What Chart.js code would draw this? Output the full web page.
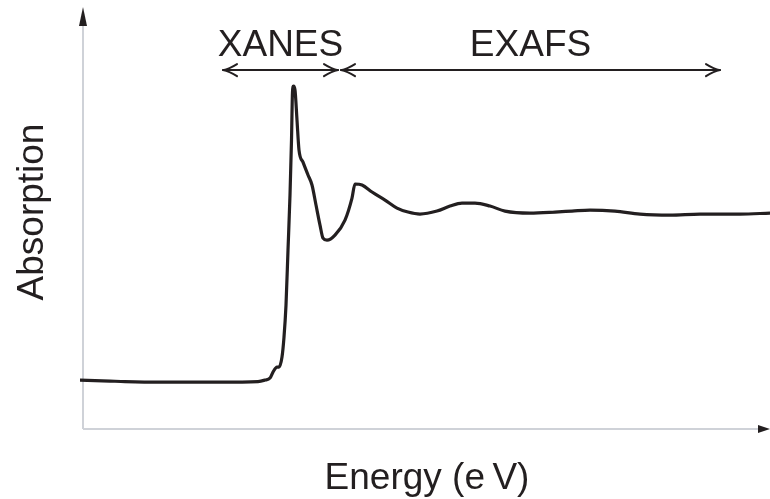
<!DOCTYPE html>
<html>
<head>
<meta charset="utf-8">
<script src="https://cdn.jsdelivr.net/npm/chart.js@4"></script>
<style>
  html, body { margin: 0; padding: 0; background: #ffffff; }
  #wrap { width: 770px; height: 499px; position: relative; }
</style>
</head>
<body>
<div id="wrap"><canvas id="c" width="770" height="499"></canvas></div>
<script>
// ---- data (energy in arbitrary units relative to scan start, absorption normalised) ----
const energy = [0, 30, 45, 80, 140, 178, 185, 190, 193, 197, 199, 202, 204, 206, 208, 210, 211.5, 212.5, 213.5, 215, 217, 219, 223, 228, 232, 236, 240, 243, 247, 255, 265, 272, 275, 282, 292, 305, 317, 328, 340, 357, 370, 382, 395, 410, 425, 450, 475, 492, 510, 535, 560, 590, 620, 660, 690];
const absorption = [0, -0.006, -0.009, -0.012, -0.012, -0.009, 0, 0.012, 0.048, 0.078, 0.078, 0.138, 0.257, 0.449, 0.778, 1.108, 1.437, 1.725, 1.760, 1.737, 1.557, 1.377, 1.305, 1.228, 1.168, 1.048, 0.928, 0.850, 0.838, 0.868, 0.958, 1.090, 1.174, 1.168, 1.126, 1.078, 1.030, 1.006, 0.994, 1.012, 1.042, 1.060, 1.060, 1.042, 1.012, 1.000, 1.006, 1.012, 1.018, 1.012, 0.994, 0.988, 0.994, 0.994, 1.000];

const regionLabels = ['XANES', 'EXAFS'];
const regionStart = [143, 261];
const regionEnd = [258, 640];

const xTitle = 'Energy (e\u2009V)';
const yTitle = 'Absorption';

const points = energy.map((e, i) => ({ x: e, y: absorption[i] }));

const ink = '#231f20';
const axisGrey = '#cfd2d8';
const FONT = '"Liberation Sans", Arial, Helvetica, sans-serif';

const decorPlugin = {
  id: 'decor',
  beforeDatasetsDraw(chart) {
    const { ctx, chartArea, scales } = chart;
    const x0 = scales.x.getPixelForValue(3);
    const yb = chartArea.bottom;
    ctx.save();
    ctx.strokeStyle = axisGrey;
    ctx.lineWidth = 2;
    ctx.beginPath();
    ctx.moveTo(x0, yb);
    ctx.lineTo(x0, chartArea.top + 14);
    ctx.moveTo(x0, yb);
    ctx.lineTo(chartArea.right - 10, yb);
    ctx.stroke();
    ctx.fillStyle = ink;
    ctx.beginPath();
    ctx.moveTo(x0, chartArea.top - 5);
    ctx.lineTo(x0 - 4, chartArea.top + 14);
    ctx.lineTo(x0 + 4, chartArea.top + 14);
    ctx.closePath();
    ctx.fill();
    ctx.beginPath();
    ctx.moveTo(chartArea.right, yb);
    ctx.lineTo(chartArea.right - 12, yb - 4);
    ctx.lineTo(chartArea.right - 12, yb + 4);
    ctx.closePath();
    ctx.fill();
    ctx.restore();
  },
  afterDatasetsDraw(chart) {
    const { ctx, scales } = chart;
    const ay = scales.y.getPixelForValue(1.856);
    ctx.save();
    ctx.strokeStyle = ink;
    ctx.lineWidth = 2;
    ctx.lineCap = 'round';
    ctx.lineJoin = 'round';
    const head = (tipX, dir) => {
      ctx.beginPath();
      ctx.moveTo(tipX + dir * 14, ay - 6);
      ctx.quadraticCurveTo(tipX + dir * 6, ay - 1, tipX, ay);
      ctx.quadraticCurveTo(tipX + dir * 6, ay + 1, tipX + dir * 14, ay + 6);
      ctx.stroke();
    };
    ctx.font = '37px ' + FONT;
    ctx.fillStyle = ink;
    ctx.textAlign = 'center';
    ctx.textBaseline = 'alphabetic';
    regionLabels.forEach((lab, i) => {
      const a = scales.x.getPixelForValue(regionStart[i]);
      const b = scales.x.getPixelForValue(regionEnd[i]);
      ctx.beginPath();
      ctx.moveTo(a, ay);
      ctx.lineTo(b, ay);
      ctx.stroke();
      head(a, 1);
      head(b, -1);
      ctx.fillText(lab, (a + b) / 2, ay - 14);
    });
    ctx.fillText(xTitle, 427, 489);
    ctx.translate(43, 212);
    ctx.rotate(-Math.PI / 2);
    ctx.fillText(yTitle, 0, 0);
    ctx.restore();
  }
};

new Chart(document.getElementById('c'), {
  type: 'line',
  data: {
    datasets: [{
      data: points,
      borderColor: ink,
      borderWidth: 3.2,
      pointRadius: 0,
      fill: false,
      cubicInterpolationMode: 'monotone'
    }]
  },
  options: {
    responsive: false,
    animation: false,
    events: [],
    layout: { padding: { left: 80, right: 0, top: 12, bottom: 70 } },
    plugins: { legend: { display: false }, tooltip: { enabled: false } },
    scales: {
      x: { type: 'linear', min: 0, max: 690, display: false },
      y: { type: 'linear', min: -0.293, max: 2.204, display: false }
    }
  },
  plugins: [decorPlugin]
});
</script>
</body>
</html>
